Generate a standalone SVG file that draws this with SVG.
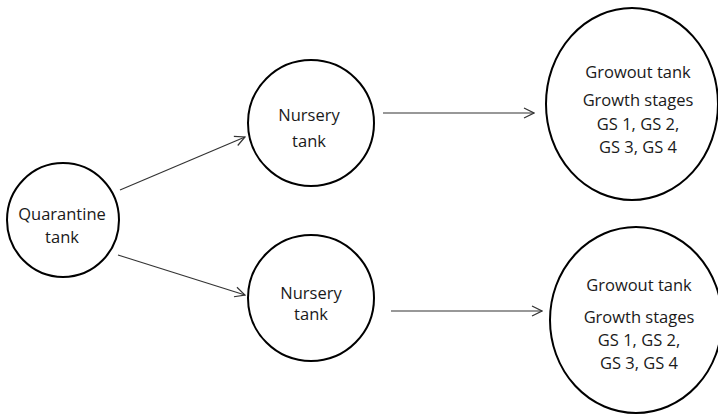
<svg xmlns="http://www.w3.org/2000/svg" width="718" height="415" viewBox="0 0 718 415">
<defs>
<style>
.node{fill:#fff;stroke:#000;stroke-width:2}
.t{font-family:"Open Sans","Noto Sans",sans-serif;font-size:16.5px;fill:#1a1a1a;text-anchor:middle}
.edge{stroke:#333;stroke-width:1.2;fill:none;marker-end:url(#arr)}
</style>
<marker id="arr" viewBox="0 0 12 12" refX="11" refY="6" markerWidth="12" markerHeight="12" markerUnits="userSpaceOnUse" orient="auto">
<path d="M1,1 L11,6 L1,11" fill="none" stroke="#333" stroke-width="1.2"/>
</marker>
</defs>
<rect width="718" height="415" fill="#fff"/>
<g id="edges">
<line class="edge" x1="120" y1="190" x2="245" y2="137"/>
<line class="edge" x1="118" y1="255" x2="245" y2="295"/>
<line class="edge" x1="383" y1="113" x2="534" y2="113"/>
<line class="edge" x1="391" y1="311" x2="542" y2="311"/>
</g>
<g id="quarantine">
<ellipse class="node" cx="63" cy="220" rx="56" ry="57"/>
<text class="t" x="62" y="220">Quarantine</text>
<text class="t" x="62" y="243">tank</text>
</g>
<g id="nursery1">
<circle class="node" cx="311" cy="123" r="63"/>
<text class="t" x="309" y="121">Nursery</text>
<text class="t" x="309" y="147">tank</text>
</g>
<g id="nursery2">
<circle class="node" cx="311" cy="298" r="63"/>
<text class="t" x="311" y="299">Nursery</text>
<text class="t" x="311" y="320">tank</text>
</g>
<g id="growout1">
<ellipse class="node" cx="632" cy="104" rx="86" ry="96"/>
<text class="t" x="638" y="78">Growout tank</text>
<text class="t" x="638" y="106">Growth stages</text>
<text class="t" x="638" y="130">GS 1, GS 2,</text>
<text class="t" x="638" y="153">GS 3, GS 4</text>
</g>
<g id="growout2">
<ellipse class="node" cx="636" cy="320" rx="86" ry="93"/>
<text class="t" x="639" y="291">Growout tank</text>
<text class="t" x="639" y="323">Growth stages</text>
<text class="t" x="639" y="346">GS 1, GS 2,</text>
<text class="t" x="639" y="369">GS 3, GS 4</text>
</g>
</svg>
